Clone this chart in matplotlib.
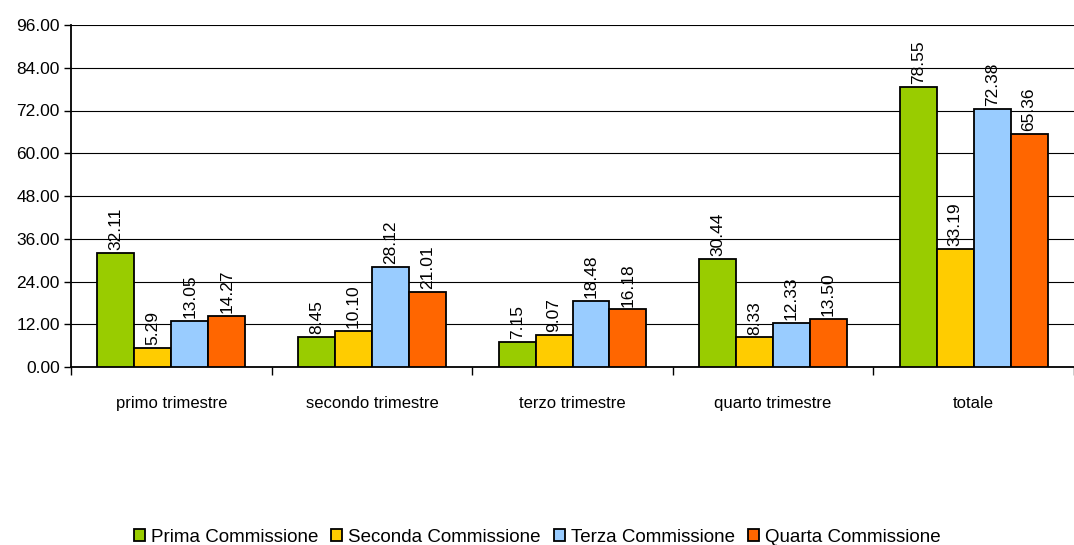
import matplotlib
matplotlib.use("Agg")
import matplotlib.pyplot as plt
import numpy as np

categories = ["primo trimestre", "secondo trimestre", "terzo trimestre", "quarto trimestre", "totale"]
series_names = ["Prima Commissione", "Seconda Commissione", "Terza Commissione", "Quarta Commissione"]
prima = [32.11, 8.45, 7.15, 30.44, 78.55]
seconda = [5.29, 10.10, 9.07, 8.33, 33.19]
terza = [13.05, 28.12, 18.48, 12.33, 72.38]
quarta = [14.27, 21.01, 16.18, 13.50, 65.36]
colors = ["#99CC00", "#FFCC00", "#99CCFF", "#FF6600"]
yticks = [0, 12, 24, 36, 48, 60, 72, 84, 96]

plt.rcParams['font.family'] = ['Liberation Sans', 'DejaVu Sans']

fig = plt.figure(figsize=(10.74, 5.45), dpi=100)
ax = fig.add_axes([71/1074, 178/545, 1 - 71/1074, (520-178)/545])

x = np.arange(len(categories))
w = 0.184
data = [prima, seconda, terza, quarta]
for i, (vals, c, name) in enumerate(zip(data, colors, series_names)):
    pos = x + (i - 1.5) * w
    ax.bar(pos, vals, width=w, color=c, edgecolor="black", linewidth=1.3, label=name, zorder=3)
    for p, v in zip(pos, vals):
        ax.annotate(f"{v:.2f}", (p, v), xytext=(0, 2), textcoords="offset points",
                    rotation=90, ha="center", va="bottom", fontsize=12.5, zorder=4)

ax.set_xlim(-0.5, len(categories) - 0.5)
ax.set_ylim(0, 96)
ax.set_yticks(yticks)
ax.set_yticklabels([f"{v:.2f}" for v in yticks], fontsize=12.5)
ax.yaxis.grid(True, color="black", linewidth=0.8, zorder=0)
ax.set_axisbelow(True)
ax.set_xticks(x)
ax.set_xticklabels(categories, fontsize=12)
ax.tick_params(axis="x", length=0, pad=21)
ax.set_xticks(np.arange(len(categories) + 1) - 0.5, minor=True)
ax.tick_params(axis="x", which="minor", length=6, width=1, direction="out")
ax.tick_params(axis="y", length=5, width=1, direction="out", pad=3)
for s in ["top", "right"]:
    ax.spines[s].set_visible(False)
ax.spines["left"].set_linewidth(1.3)
ax.spines["bottom"].set_linewidth(1.3)

leg = fig.legend(loc="center", bbox_to_anchor=(0.5, 1 - 537/545), ncol=4, frameon=False,
                 fontsize=13.5, handlelength=0.6, handleheight=0.6, handletextpad=0.3, columnspacing=0.7)
plt.savefig("out.png", dpi=100)
